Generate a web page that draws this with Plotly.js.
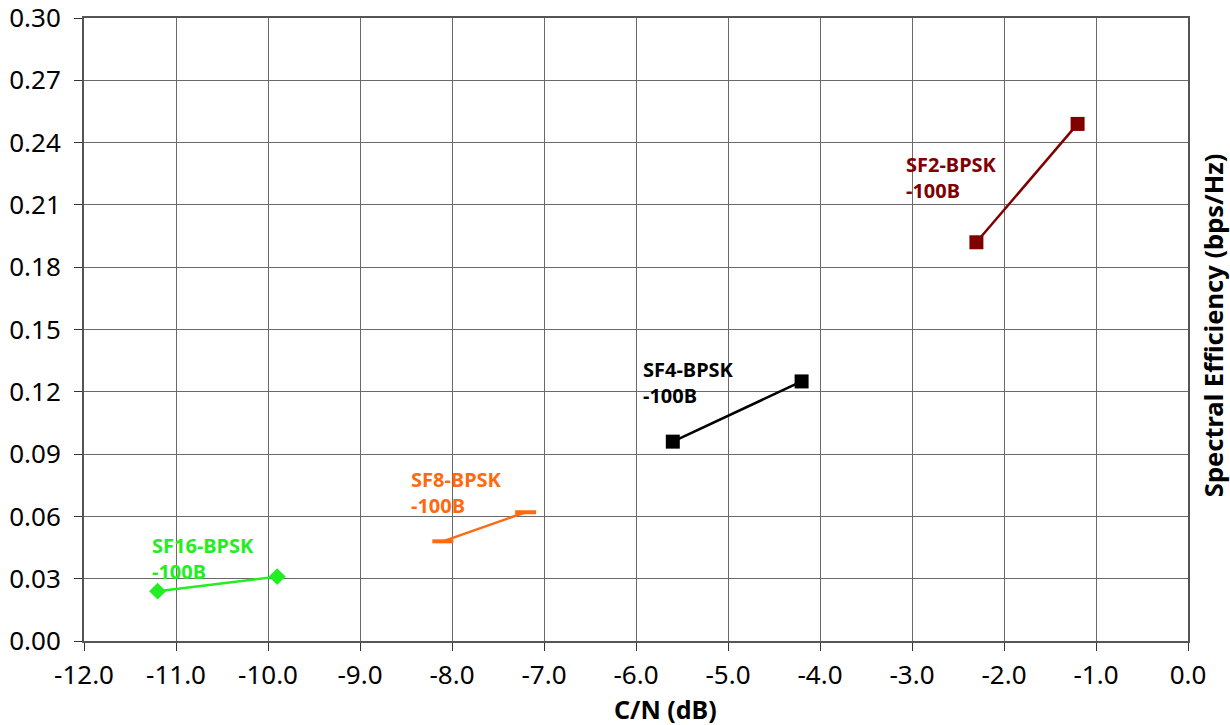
<!DOCTYPE html>
<html>
<head>
<meta charset="utf-8">
<script src="https://cdn.plot.ly/plotly-3.0.1.min.js"></script>
<style>html,body{margin:0;padding:0;background:#fff;}#chart{width:1230px;height:725px;}</style>
</head>
<body>
<div id="chart"></div>
<script>
// Data
const sf16X = [-11.2, -9.9];
const sf16Y = [0.024, 0.031];
const sf8X = [-8.1, -7.2];
const sf8Y = [0.048, 0.062];
const sf4X = [-5.6, -4.2];
const sf4Y = [0.096, 0.125];
const sf2X = [-2.3, -1.2];
const sf2Y = [0.192, 0.249];
const seriesLabels = ["SF16-BPSK<br>-100B", "SF8-BPSK<br>-100B", "SF4-BPSK<br>-100B", "SF2-BPSK<br>-100B"];
const xTicks = [-12, -11, -10, -9, -8, -7, -6, -5, -4, -3, -2, -1, 0];
const yTicks = [0, 0.03, 0.06, 0.09, 0.12, 0.15, 0.18, 0.21, 0.24, 0.27, 0.30];

const FONT = "Noto Sans, DejaVu Sans, sans-serif";
const green = "#22ee22", orange = "#ff6a10", black = "#000000", red = "#800000";

const traces = [
  {x: sf16X, y: sf16Y, mode: "lines+markers", line: {color: green, width: 2.5},
   marker: {symbol: "diamond", size: 13, color: green}},
  {x: sf8X, y: sf8Y, mode: "lines+markers", line: {color: orange, width: 2.5},
   marker: {symbol: "line-ew", size: 15, line: {color: orange, width: 4}}},
  {x: sf4X, y: sf4Y, mode: "lines+markers", line: {color: black, width: 2.5},
   marker: {symbol: "square", size: 14, color: black}},
  {x: sf2X, y: sf2Y, mode: "lines+markers", line: {color: red, width: 2.5},
   marker: {symbol: "square", size: 14, color: red}}
];

// label placement (left x, vertical centre, colour)
const annPos = [
  [-11.283, 0.0395, green],
  [-8.467, 0.0713, orange],
  [-5.946, 0.1247, black],
  [-3.087, 0.2232, red]
];
const annotations = annPos.map((p, i) => ({
  x: p[0], y: p[1], xref: "x", yref: "y", text: "<b>" + seriesLabels[i] + "</b>",
  showarrow: false, xanchor: "left", yanchor: "middle", align: "left",
  font: {family: FONT, size: 20, color: p[2]}
}));
annotations.push({
  x: 1, y: 0.507, xref: "paper", yref: "paper", xanchor: "center", yanchor: "middle",
  xshift: 25, textangle: -90, showarrow: false,
  text: "<b>Spectral Efficiency (bps/Hz)</b>",
  font: {family: FONT, size: 25.5, color: "#000"}
});
annotations.push({
  x: 0.527, y: -0.1095, xref: "paper", yref: "paper", xanchor: "center", yanchor: "middle",
  showarrow: false, text: "<b>C/N (dB)</b>",
  font: {family: FONT, size: 25, color: "#000"}
});

const layout = {
  width: 1230, height: 725,
  margin: {l: 84, r: 42, t: 18, b: 84},
  paper_bgcolor: "#fff", plot_bgcolor: "#fff",
  showlegend: false,
  font: {family: FONT, color: "#000"},
  xaxis: {
    range: [-12, 0], tickvals: xTicks, ticktext: xTicks.map(v => v.toFixed(1)),
    showgrid: true, gridcolor: "#6a6a6a", gridwidth: 1, zeroline: false,
    showline: true, linecolor: "#555", linewidth: 2, mirror: true,
    ticks: "outside", ticklen: 8, tickcolor: "#333", tickwidth: 1,
    ticklabelstandoff: 2, ticklabeloverflow: "allow",
    tickfont: {family: FONT, size: 26, color: "#000"}
  },
  yaxis: {
    range: [0, 0.30], tickvals: yTicks, ticktext: yTicks.map(v => v.toFixed(2)),
    showgrid: true, gridcolor: "#6a6a6a", gridwidth: 1, zeroline: false,
    showline: true, linecolor: "#555", linewidth: 2, mirror: true,
    ticks: "outside", ticklen: 8, tickcolor: "#333", tickwidth: 1,
    ticklabelstandoff: 8, ticklabeloverflow: "allow",
    tickfont: {family: FONT, size: 26, color: "#000"}
  },
  annotations: annotations
};

Plotly.newPlot("chart", traces, layout, {displayModeBar: false, staticPlot: true});
</script>
</body>
</html>
